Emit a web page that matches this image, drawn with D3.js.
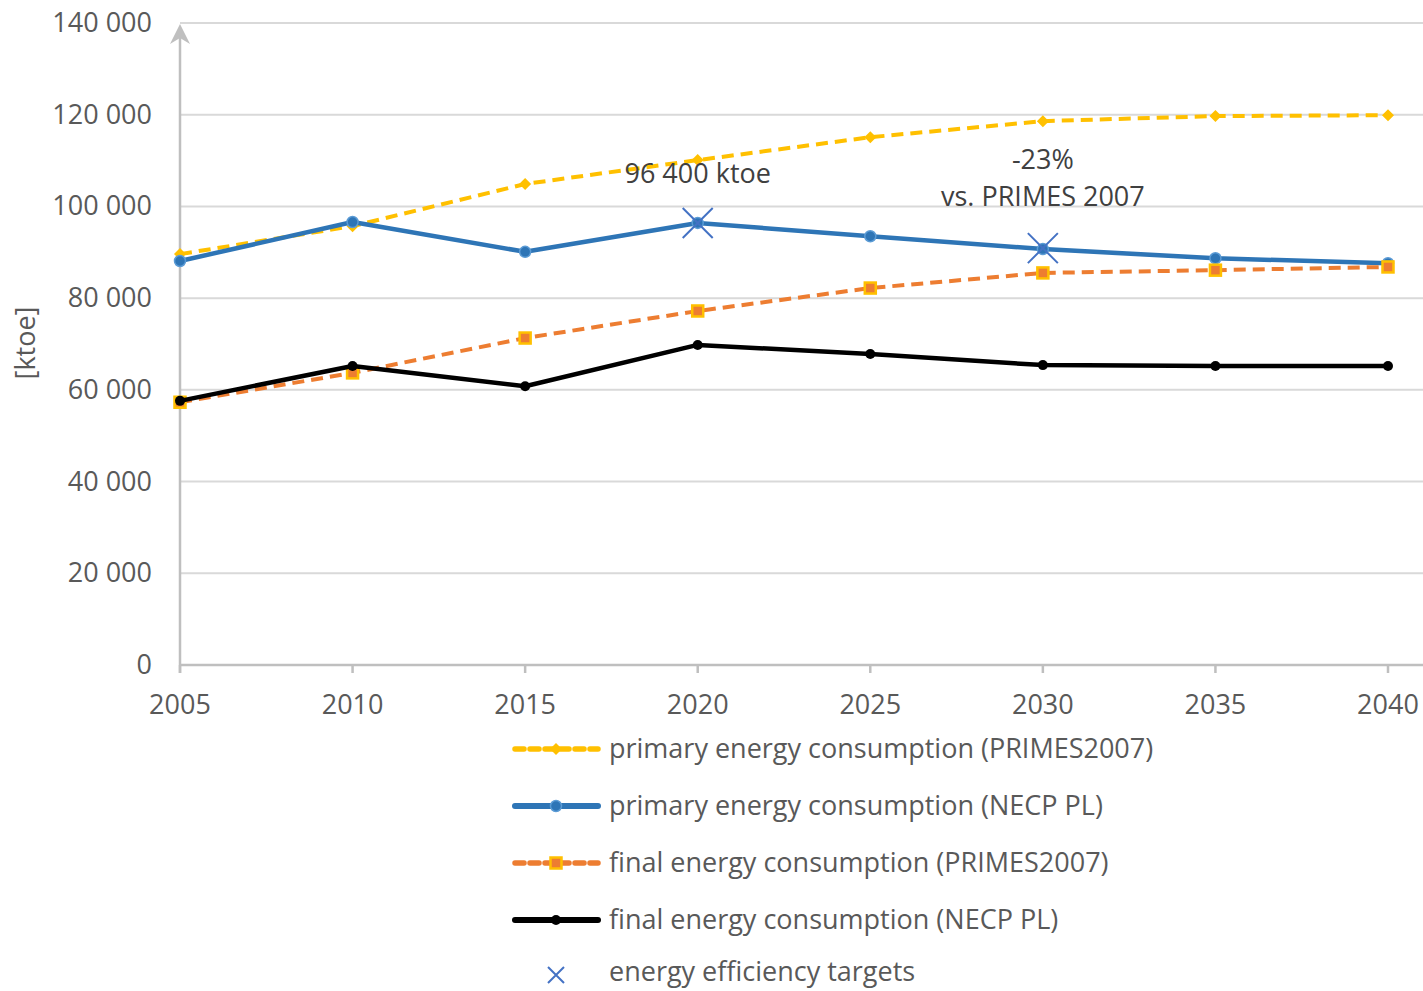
<!DOCTYPE html>
<html>
<head>
<meta charset="utf-8">
<script src="https://cdn.jsdelivr.net/npm/d3@7"></script>
<style>
  body { margin: 0; background: #fff; }
  svg { display: block; font-family: 'Open Sans', sans-serif; }
</style>
</head>
<body>
<div class="chart"></div>
<script>
const years = [2005, 2010, 2015, 2020, 2025, 2030, 2035, 2040];
const primaryPrimes = [89600, 95700, 104900, 110100, 115100, 118600, 119700, 119900];
const primaryNecp = [88100, 96600, 90100, 96400, 93500, 90700, 88700, 87600];
const finalPrimes = [57300, 63700, 71300, 77200, 82200, 85500, 86100, 86800];
const finalNecp = [57600, 65200, 60800, 69800, 67800, 65400, 65200, 65200];
const targets = [{ year: 2020, value: 96400 }, { year: 2030, value: 90900 }];
const yTicks = [0, 20000, 40000, 60000, 80000, 100000, 120000, 140000];

const series = [
  { name: 'primary energy consumption (PRIMES2007)', values: primaryPrimes, color: '#FFC000', dash: '12,7', width: 4, marker: 'diamond' },
  { name: 'primary energy consumption (NECP PL)', values: primaryNecp, color: '#2E75B6', dash: null, width: 4.5, marker: 'circle' },
  { name: 'final energy consumption (PRIMES2007)', values: finalPrimes, color: '#ED7D31', dash: '12,7', width: 4, marker: 'square' },
  { name: 'final energy consumption (NECP PL)', values: finalNecp, color: '#000000', dash: null, width: 4.5, marker: 'dot' }
];

function displayChart() {
  const w = 1423;
  const h = 991;
  const plot = { left: 180, right: 1388, top: 23, bottom: 665 };
  const fs = 27;

  const svg = d3.select('.chart')
    .append('svg')
    .attr('width', w)
    .attr('height', h);

  const x = d3.scalePoint()
    .domain(years)
    .range([plot.left, plot.right]);

  const y = d3.scaleLinear()
    .domain([0, 140000])
    .range([plot.bottom, plot.top]);

  const fmt = v => d3.format(',')(v).replace(/,/g, ' ');
  const grey = '#595959';

  // gridlines
  svg.append('g')
    .selectAll('line')
    .data(yTicks.filter(d => d > 0))
    .enter()
    .append('line')
    .attr('x1', plot.left)
    .attr('x2', w)
    .attr('y1', d => y(d))
    .attr('y2', d => y(d))
    .attr('stroke', '#D9D9D9')
    .attr('stroke-width', 2);

  // y tick labels
  svg.append('g')
    .selectAll('text')
    .data(yTicks)
    .enter()
    .append('text')
    .attr('x', 152)
    .attr('y', d => y(d) + 9)
    .attr('text-anchor', 'end')
    .attr('fill', grey)
    .attr('font-size', fs)
    .text(fmt);

  // y axis with arrow
  svg.append('line')
    .attr('x1', plot.left).attr('x2', plot.left)
    .attr('y1', plot.bottom + 8).attr('y2', 30)
    .attr('stroke', '#BFBFBF')
    .attr('stroke-width', 2.5);
  svg.append('path')
    .attr('d', `M${plot.left - 10},${44} L${plot.left},${24} L${plot.left + 10},${44} L${plot.left},${38} Z`)
    .attr('fill', '#BFBFBF');

  // x axis
  svg.append('line')
    .attr('x1', plot.left).attr('x2', w)
    .attr('y1', plot.bottom).attr('y2', plot.bottom)
    .attr('stroke', '#BFBFBF')
    .attr('stroke-width', 2.5);
  svg.append('g')
    .selectAll('line')
    .data(years)
    .enter()
    .append('line')
    .attr('x1', d => x(d)).attr('x2', d => x(d))
    .attr('y1', plot.bottom).attr('y2', plot.bottom + 8)
    .attr('stroke', '#BFBFBF')
    .attr('stroke-width', 2.5);
  svg.append('g')
    .selectAll('text')
    .data(years)
    .enter()
    .append('text')
    .attr('x', d => x(d))
    .attr('y', 714)
    .attr('text-anchor', 'middle')
    .attr('fill', grey)
    .attr('font-size', fs)
    .text(d => d);

  // y title
  svg.append('text')
    .attr('transform', 'translate(35, 343) rotate(-90)')
    .attr('text-anchor', 'middle')
    .attr('fill', grey)
    .attr('font-size', fs)
    .text('[ktoe]');

  const line = d3.line()
    .x((d, i) => x(years[i]))
    .y(d => y(d));

  function drawMarker(g, type, cx, cy, color) {
    if (type === 'diamond') {
      g.append('path')
        .attr('d', `M${cx},${cy - 6} L${cx + 6},${cy} L${cx},${cy + 6} L${cx - 6},${cy} Z`)
        .attr('fill', color);
    } else if (type === 'circle') {
      g.append('circle').attr('cx', cx).attr('cy', cy).attr('r', 5.5)
        .attr('fill', color).attr('stroke', '#5B9BD5').attr('stroke-width', 1.5);
    } else if (type === 'square') {
      g.append('rect').attr('x', cx - 5.5).attr('y', cy - 5.5).attr('width', 11).attr('height', 11)
        .attr('fill', '#ED7D31').attr('stroke', '#FFC000').attr('stroke-width', 2.5);
    } else {
      g.append('circle').attr('cx', cx).attr('cy', cy).attr('r', 5).attr('fill', color);
    }
  }

  series.forEach(s => {
    const g = svg.append('g');
    g.append('path')
      .datum(s.values)
      .attr('d', line)
      .attr('fill', 'none')
      .attr('stroke', s.color)
      .attr('stroke-width', s.width)
      .attr('stroke-dasharray', s.dash)
      .attr('stroke-linejoin', 'round');
    s.values.forEach((v, i) => drawMarker(g, s.marker, x(years[i]), y(v), s.color));
  });

  function drawCross(g, cx, cy, r, sw) {
    g.append('path')
      .attr('d', `M${cx - r},${cy - r} L${cx + r},${cy + r} M${cx - r},${cy + r} L${cx + r},${cy - r}`)
      .attr('stroke', '#4472C4')
      .attr('stroke-width', sw)
      .attr('fill', 'none');
  }
  const tg = svg.append('g');
  targets.forEach(t => drawCross(tg, x(t.year), y(t.value), 15, 2));

  // annotations
  svg.append('text')
    .attr('x', x(2020))
    .attr('y', 183)
    .attr('text-anchor', 'middle')
    .attr('fill', '#404040')
    .attr('font-size', fs)
    .text('96 400 ktoe');
  svg.append('text')
    .attr('x', x(2030))
    .attr('y', 169)
    .attr('text-anchor', 'middle')
    .attr('fill', '#404040')
    .attr('font-size', fs)
    .text('-23%');
  svg.append('text')
    .attr('x', x(2030))
    .attr('y', 206)
    .attr('text-anchor', 'middle')
    .attr('fill', '#404040')
    .attr('font-size', fs)
    .text('vs. PRIMES 2007');

  // legend
  const legend = svg.append('g');
  const rowY = [749, 806, 863, 920];
  series.forEach((s, i) => {
    const ly = rowY[i];
    legend.append('line')
      .attr('x1', 515).attr('x2', 598)
      .attr('y1', ly).attr('y2', ly)
      .attr('stroke', s.color)
      .attr('stroke-width', s.width + 1.5)
      .attr('stroke-dasharray', s.dash ? '9,6' : null)
      .attr('stroke-linecap', 'round');
    drawMarker(legend, s.marker, 556, ly, s.color);
    legend.append('text')
      .attr('x', 609)
      .attr('y', ly + 9)
      .attr('fill', grey)
      .attr('font-size', fs)
      .text(s.name);
  });
  drawCross(legend, 556, 975, 8, 2);
  legend.append('text')
    .attr('x', 609)
    .attr('y', 981)
    .attr('fill', grey)
    .attr('font-size', fs)
    .text('energy efficiency targets');
}

displayChart();
</script>
</body>
</html>
